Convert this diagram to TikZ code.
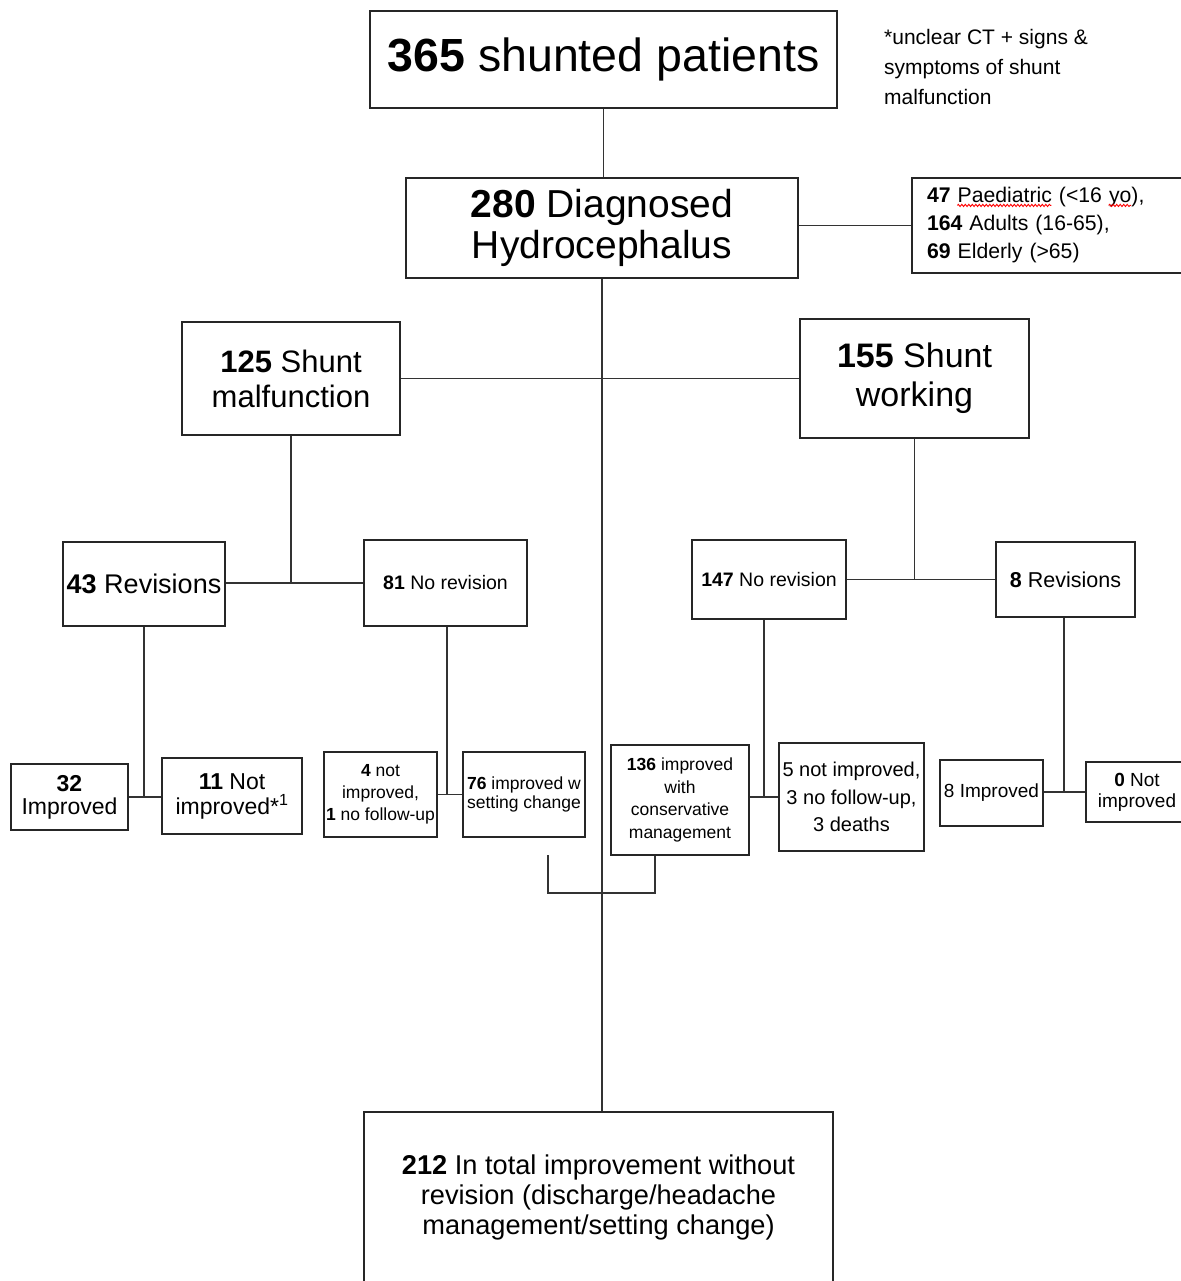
\documentclass[tikz,border=0pt]{standalone}
\usepackage{fontspec}
\setmainfont{Liberation Sans}
\usetikzlibrary{calc,decorations.pathmorphing}
\newcommand\fsz[2]{\fontsize{#1}{#2}\selectfont}
\newlength\wavelen
\newsavebox\wavebox
\newcommand\redwave[1]{\sbox\wavebox{#1}\setlength\wavelen{\wd\wavebox}\usebox\wavebox\llap{\smash{\raisebox{-4pt}{\tikz[x=1pt,y=1pt]\draw[red,line width=0.9pt,decorate,decoration={snake,amplitude=1.1pt,segment length=3.5pt}] (0,0) -- (\wavelen,0);}}}}
\begin{document}
\begin{tikzpicture}[x=1pt,y=-1pt,
  box/.style={draw=black!85, line width=1.5pt, inner sep=0pt, align=center, text=black},
  conn/.style={draw=black!80, line width=1.3pt}]
\useasboundingbox (0,0) rectangle (1180,1281);
\fill[white] (0,0) rectangle (1180,1281);

\node[box, minimum width=467pt, minimum height=97pt, font=\fsz{46.5}{50}] (A) at (603.5,59.5) {\textbf{365} shunted patients};
\node[anchor=north west, align=left, inner sep=0pt, font=\fsz{21}{30}] (note) at (884,29) {*unclear CT + signs \&\\symptoms of shunt\\malfunction};
\node[box, minimum width=392pt, minimum height=100pt, font=\fsz{39}{41}] (B) at (602,228) {\textbf{280} Diagnosed\\Hydrocephalus};
\node[box, text width=242pt, inner xsep=15pt, align=left, minimum height=95pt, font=\fsz{21.2}{28}] (Age) at (1048,225.5) {\textbf{47} \redwave{Paediatric} (<16 \redwave{yo}),\\\textbf{164} Adults (16-65),\\\textbf{69} Elderly (>65)};

\node[box, minimum width=218pt, minimum height=113pt, font=\fsz{31}{35}] (C) at (291,378.5) {\textbf{125} Shunt\\malfunction};
\node[box, minimum width=229pt, minimum height=119pt, font=\fsz{34}{39}] (D) at (914.5,378.5) {\textbf{155} Shunt\\working};

\node[box, minimum width=162pt, minimum height=84pt, font=\fsz{27}{30}] (E) at (144,584) {\textbf{43} Revisions};
\node[box, minimum width=163pt, minimum height=86pt, font=\fsz{19.5}{22}] (F) at (445.5,583) {\textbf{81} No revision};
\node[box, minimum width=154pt, minimum height=79pt, font=\fsz{19.5}{22}] (G) at (769,579.5) {\textbf{147} No revision};
\node[box, minimum width=139pt, minimum height=75pt, font=\fsz{21.5}{24}] (H) at (1065.5,579.5) {\textbf{8} Revisions};

\node[box, minimum width=117pt, minimum height=66pt, font=\fsz{23}{23}] (I) at (69.5,797) {\textbf{32}\\Improved};
\node[box, minimum width=140pt, minimum height=76pt, font=\fsz{23}{25}] (J) at (232,796) {\textbf{11} Not\\improved*\textsuperscript{1}};
\node[box, minimum width=113pt, minimum height=85pt, font=\fsz{17.5}{22}] (K) at (380.5,794.5) {\textbf{4} not\\improved,\\\textbf{1} no follow-up};
\node[box, minimum width=122pt, minimum height=85pt, font=\fsz{17.5}{19}] (L) at (524,794.5) {\textbf{76} improved w\\setting change};
\node[box, minimum width=138pt, minimum height=110pt, font=\fsz{17.5}{22.5}] (M) at (680,800) {\textbf{136} improved\\with\\conservative\\management};
\node[box, minimum width=145pt, minimum height=108pt, font=\fsz{20}{27.5}] (N) at (851.5,797) {5 not improved,\\3 no follow-up,\\3 deaths};
\node[box, minimum width=103pt, minimum height=66pt, font=\fsz{19}{21}] (O) at (991.5,793) {8 Improved};
\node[box, minimum width=102pt, minimum height=60pt, font=\fsz{19}{21}] (P) at (1137,792) {\textbf{0} Not\\improved};

\node[box, minimum width=469pt, minimum height=170pt, font=\fsz{27.2}{30}] (Q) at (598.5,1197) {\textbf{212} In total improvement without\\revision (discharge/headache\\management/setting change)};

% connectors
\draw[conn] (A.south) -- (A.south |- B.north);
\draw[conn] (B.south) -- (B.south |- Q.north);
\draw[conn] (B.east |- Age.west) -- (Age.west);
\draw[conn] (C.east) -- (D.west);
\draw[conn] (C.south) -- (C.south |- F.west);
\draw[conn] (E.east |- F.west) -- (F.west);
\draw[conn] (D.south) -- (D.south |- G.east);
\draw[conn] (G.east) -- (H.west);
\draw[conn] (E.south) -- (E.south |- I.east);
\draw[conn] (I.east) -- (I.east -| J.west);
\draw[conn] ([xshift=1.5pt]F.south) -- ([xshift=1.5pt]F.south |- K.east);
\draw[conn] (K.east) -- (L.west);
\draw[conn] ([xshift=-5pt]G.south) -- ([xshift=-5pt]G.south |- N.west);
\draw[conn] (M.east |- N.west) -- (N.west);
\draw[conn] ([xshift=-1.5pt]H.south) -- ([xshift=-1.5pt]H.south |- P.west);
\draw[conn] (O.east |- P.west) -- (P.west);
\coordinate (bl) at (548,855);
\draw[conn] (bl) -- ++(0,38) -| ([xshift=-25pt]M.south);
\end{tikzpicture}
\end{document}
